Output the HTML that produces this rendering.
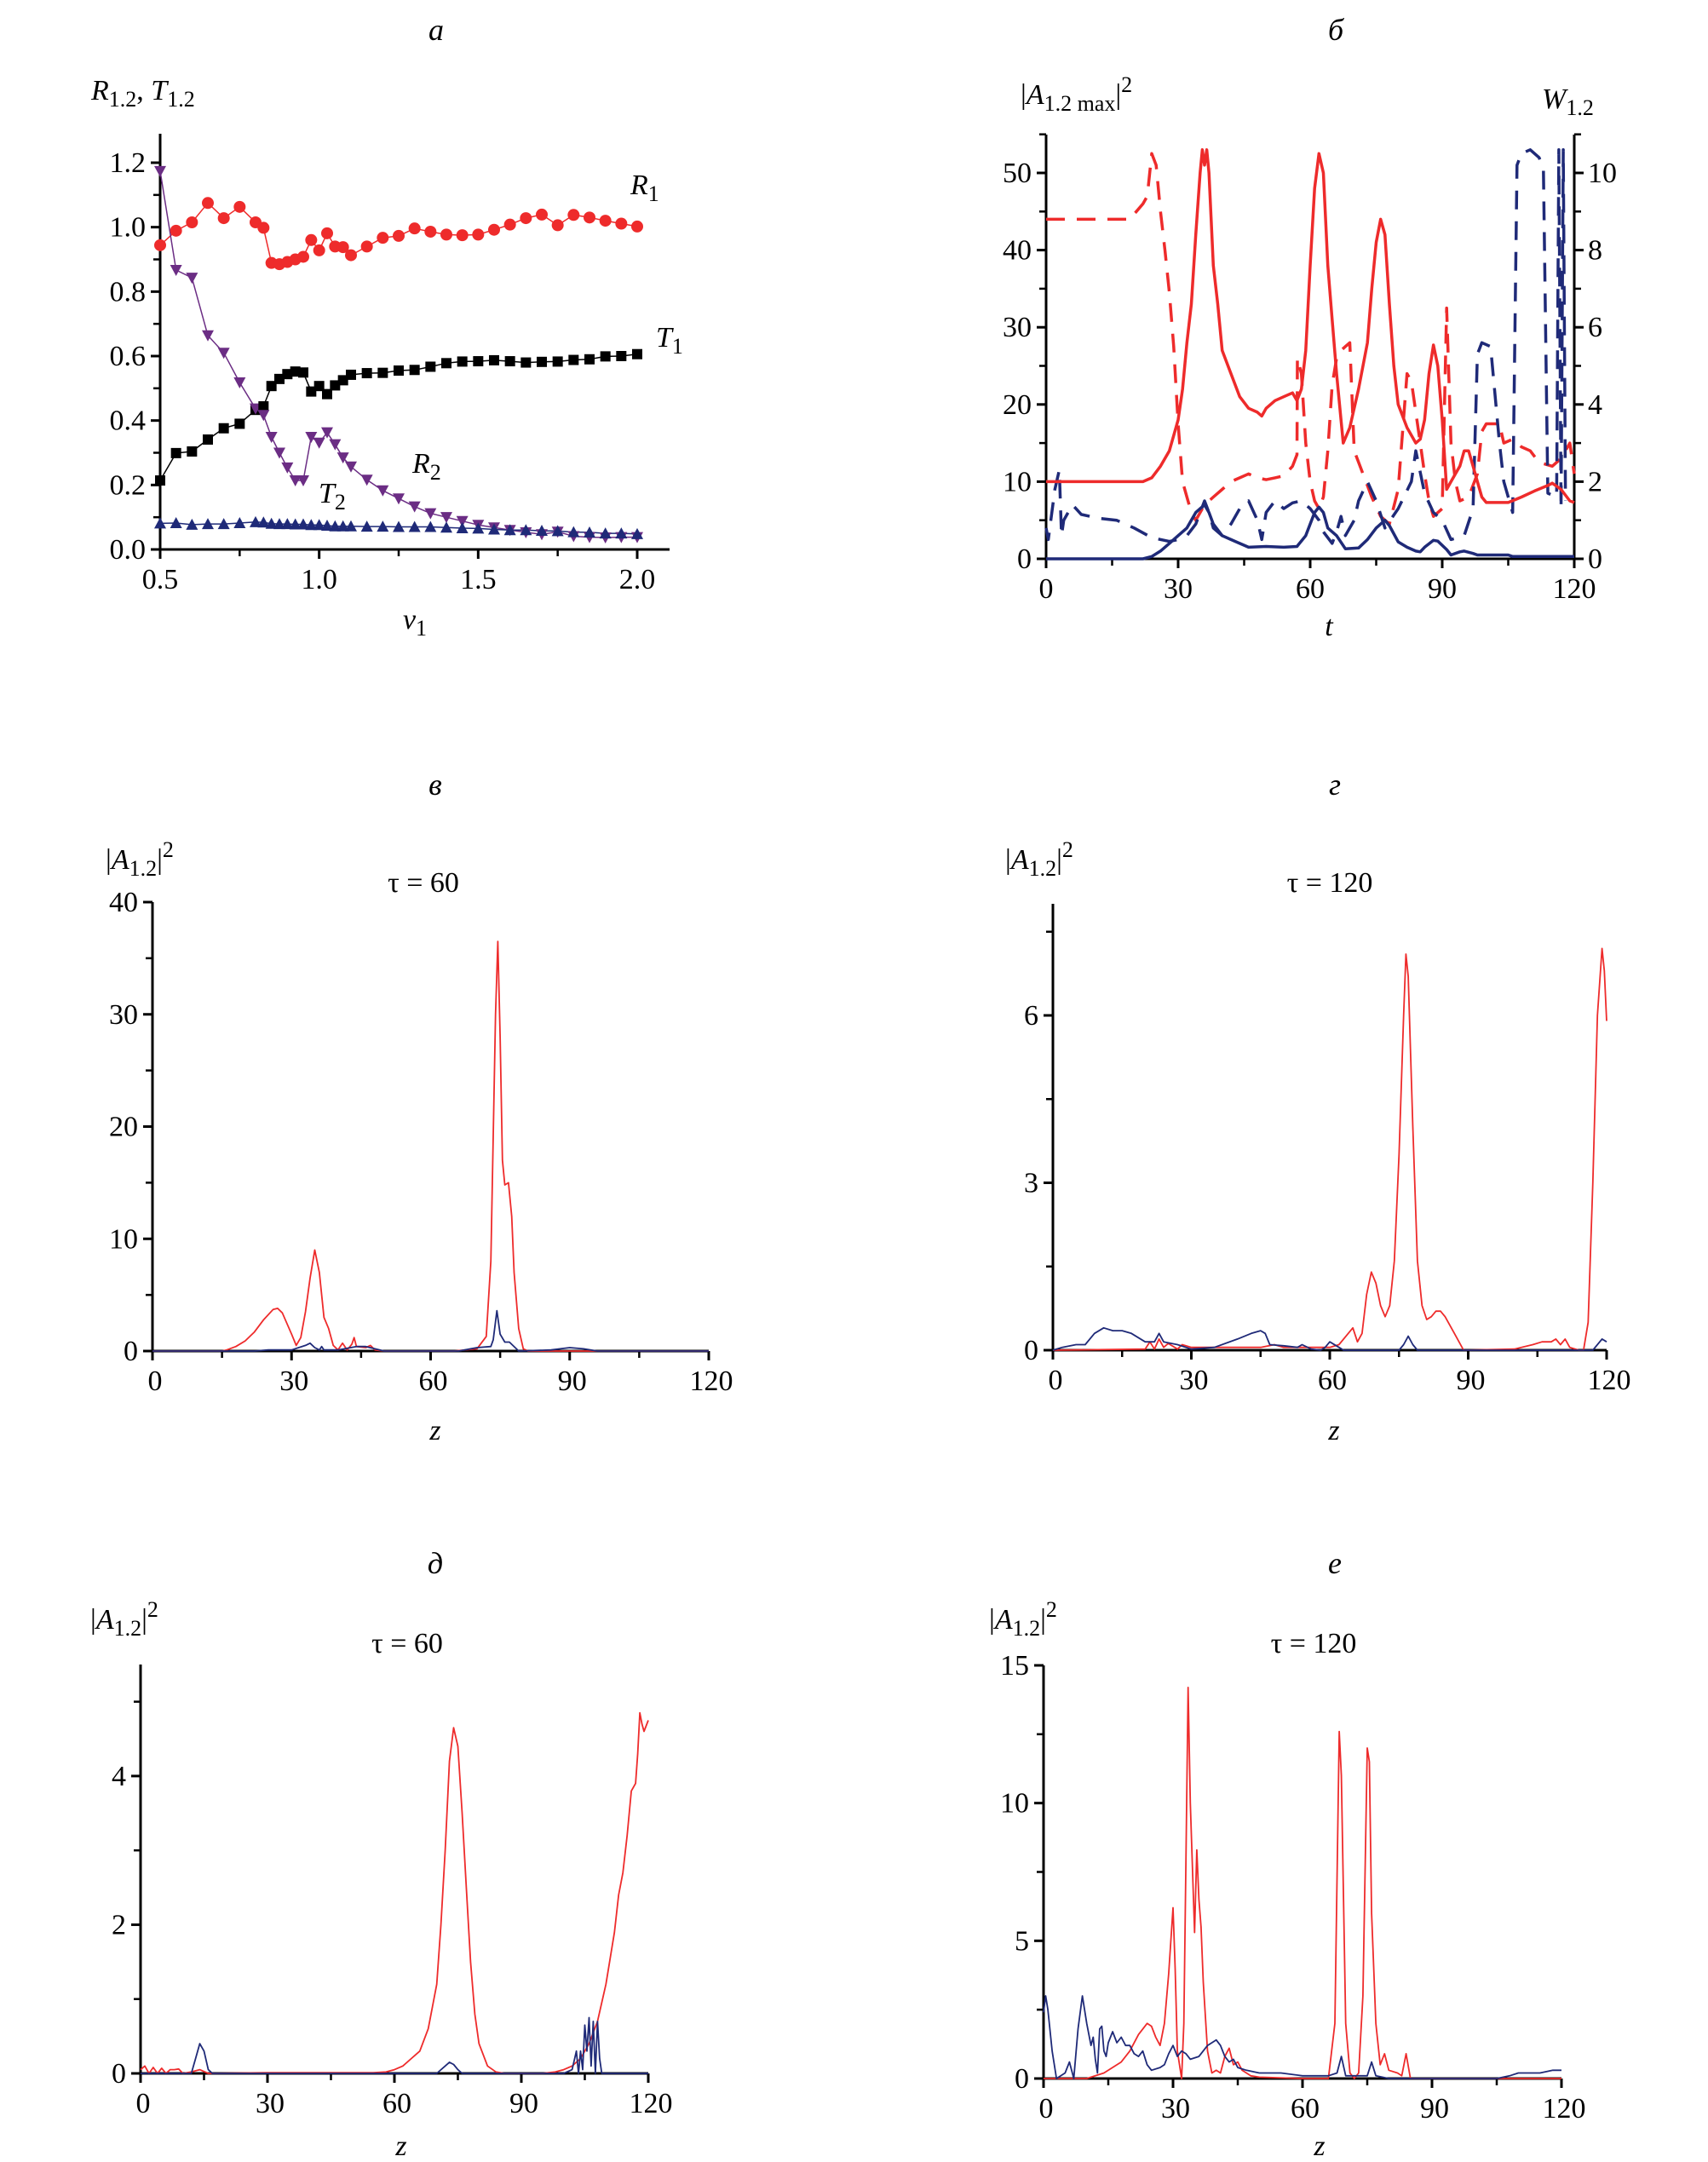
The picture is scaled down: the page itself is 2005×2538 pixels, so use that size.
<!DOCTYPE html>
<html><head><meta charset="utf-8">
<style>
html,body{margin:0;padding:0;background:#fff;}
svg{display:block;font-family:"Liberation Serif",serif;}
svg text{font-family:"Liberation Serif","Times New Roman",serif;}
</style></head>
<body>
<svg id="fig" width="2005" height="2538" viewBox="0 0 2005 2538" xmlns="http://www.w3.org/2000/svg" font-family="Liberation Serif, serif">
<g font-style="italic" font-size="36" text-anchor="middle" fill="#000">
<text x="512" y="47">a</text>
<text x="1568" y="47">б</text>
<text x="511" y="933">в</text>
<text x="1567" y="933">г</text>
<text x="511" y="1847">д</text>
<text x="1567" y="1847">е</text>
</g>
<g font-size="34" fill="#000">
<text x="107" y="117"><tspan font-style="italic">R</tspan><tspan font-size="26" dy="8">1.2</tspan><tspan dy="-8">, </tspan><tspan font-style="italic">T</tspan><tspan font-size="26" dy="8">1.2</tspan></text>
<text x="487" y="738" text-anchor="middle" font-style="italic">v<tspan font-size="26" font-style="normal" dy="8">1</tspan></text>
<text x="740" y="228" font-style="italic">R<tspan font-size="26" font-style="normal" dy="8">1</tspan></text>
<text x="770" y="407" font-style="italic">T<tspan font-size="26" font-style="normal" dy="8">1</tspan></text>
<text x="484" y="555" font-style="italic">R<tspan font-size="26" font-style="normal" dy="8">2</tspan></text>
<text x="374" y="590" font-style="italic">T<tspan font-size="26" font-style="normal" dy="8">2</tspan></text>

<text x="1198" y="122">|<tspan font-style="italic">A</tspan><tspan font-size="26" dy="8">1.2 max</tspan><tspan dy="-8">|</tspan><tspan font-size="26" dy="-14">2</tspan></text>
<text x="1810" y="127"><tspan font-style="italic">W</tspan><tspan font-size="26" dy="8">1.2</tspan></text>
<text x="1560" y="746" text-anchor="middle" font-style="italic">t</text>

<text x="124" y="1020">|<tspan font-style="italic">A</tspan><tspan font-size="26" dy="8">1.2</tspan><tspan dy="-8">|</tspan><tspan font-size="26" dy="-14">2</tspan></text>
<text x="497" y="1047" text-anchor="middle">τ = 60</text>
<text x="511" y="1690" text-anchor="middle" font-style="italic">z</text>

<text x="1180" y="1020">|<tspan font-style="italic">A</tspan><tspan font-size="26" dy="8">1.2</tspan><tspan dy="-8">|</tspan><tspan font-size="26" dy="-14">2</tspan></text>
<text x="1561" y="1047" text-anchor="middle">τ = 120</text>
<text x="1566" y="1690" text-anchor="middle" font-style="italic">z</text>

<text x="106" y="1912">|<tspan font-style="italic">A</tspan><tspan font-size="26" dy="8">1.2</tspan><tspan dy="-8">|</tspan><tspan font-size="26" dy="-14">2</tspan></text>
<text x="478" y="1940" text-anchor="middle">τ = 60</text>
<text x="471" y="2530" text-anchor="middle" font-style="italic">z</text>

<text x="1161" y="1912">|<tspan font-style="italic">A</tspan><tspan font-size="26" dy="8">1.2</tspan><tspan dy="-8">|</tspan><tspan font-size="26" dy="-14">2</tspan></text>
<text x="1542" y="1940" text-anchor="middle">τ = 120</text>
<text x="1549" y="2530" text-anchor="middle" font-style="italic">z</text>
</g>
<g id="plots"></g>
</svg>
<script>
// ---- Panel a data ----
const aV = [0.5,0.55,0.6,0.65,0.7,0.75,0.8,0.825,0.85,0.875,0.9,0.925,0.95,0.975,1.0,1.025,1.05,1.075,1.1,1.15,1.2,1.25,1.3,1.35,1.4,1.45,1.5,1.55,1.6,1.65,1.7,1.75,1.8,1.85,1.9,1.95,2.0];
const aR1 = [0.944,0.989,1.015,1.075,1.028,1.063,1.015,0.998,0.889,0.885,0.892,0.9,0.908,0.96,0.928,0.981,0.94,0.938,0.913,0.94,0.967,0.973,0.996,0.986,0.977,0.975,0.977,0.992,1.008,1.028,1.039,1.006,1.038,1.03,1.02,1.011,1.002];
const aT1 = [0.214,0.299,0.304,0.341,0.376,0.39,0.433,0.444,0.507,0.529,0.544,0.552,0.549,0.49,0.507,0.482,0.509,0.525,0.542,0.547,0.548,0.555,0.557,0.567,0.578,0.583,0.584,0.587,0.584,0.58,0.582,0.583,0.588,0.59,0.599,0.6,0.606];
const aR2 = [1.174,0.867,0.843,0.664,0.61,0.518,0.437,0.417,0.349,0.3,0.254,0.214,0.214,0.349,0.331,0.363,0.326,0.285,0.257,0.216,0.183,0.158,0.133,0.112,0.1,0.088,0.076,0.068,0.06,0.053,0.047,0.055,0.041,0.038,0.037,0.038,0.038];
const aT2 = [0.081,0.082,0.077,0.079,0.079,0.082,0.085,0.084,0.08,0.079,0.079,0.078,0.078,0.076,0.076,0.074,0.072,0.072,0.072,0.071,0.071,0.07,0.07,0.07,0.068,0.066,0.065,0.062,0.06,0.06,0.058,0.057,0.054,0.053,0.05,0.05,0.048];
const aYTicks = ["0.0","0.2","0.4","0.6","0.8","1.0","1.2"];
const aXTicks = ["0.5","1.0","1.5","2.0"];

// ---- Panel b data ----
const bT1 = [0,22,24,26,28,30,31,32,33,34,35,35.5,36,36.5,37,38,39,40,42,44,46,48,49,50,52,54,56,57,58,59,60,61,62,63,64,65,66,67,67.5,69,71,73,74,75,76,77,78,79,80,82,84,85,86,87,88,89,90,91,92,93,94,95,96,97,98,99,100,105,108,111,114,115,117,119,120];
const bA1 = [10,10,10.5,12,14,18,22,28,33,42,50,53,51,53,50,38,33,27,24,21,19.5,19,18.5,19.5,20.5,21,21.5,20.5,22,27,38,48,52.5,50,38,31,24,18,15,17,22,28,35,41,44,42,33,25,20,17,15,15.5,18,24,27.7,25,18,9,10,11,12,14,14,12,10,8,7.3,7.3,8,8.8,9.5,9.8,9,7.5,7.3];
const bT2 = [0,22,24,26,28,30,32,34,36,37,38,40,42,44,46,50,54,57,59,61,62,63,64,66,68,71,73,75,77,78,80,82,84,85,86,88,89,91,92,94,95,97,98,105,106,120];
const bA2 = [0,0,0.3,1,2,3,4,6,7,6,4.5,3,2.5,2,1.5,1.6,1.5,1.6,3,6,6.7,6,4,3,1.3,1.4,2.5,4,5,4.3,2.2,1.5,1,0.9,1.5,2.4,2.3,1.2,0.5,0.9,1,0.7,0.5,0.5,0.3,0.3];
const bTW1 = [0,19,22,23,24,25,26,27,28,29,30,31,32,33,34,36,38,40,42,44,46,48,50,52,54,56,57,57.1,58,59,60,61,62,63,64,65,66,67,68,69,70,72,74,76,78,80,82,83,84,85,86,87,88,90,91,92,93,94,96,98,99,100,103,104,106,108,110,112,115,117,119,120];
const bW1 = [8.8,8.8,9.2,9.4,10.5,10.2,9,8,6.9,5.5,3.5,2,1.6,1.2,1.0,1.4,1.6,1.8,2,2.1,2.2,2.1,2.05,2.1,2.15,2.4,2.7,5.2,4.8,3,2,1.5,1.3,1.6,2.8,4.5,5.2,5.4,5.5,5.6,2.8,2.2,1.6,1.1,0.9,1.8,4.8,4.6,3.8,3,2.2,1.5,1.1,1.3,6.5,3,2,1.5,1.6,2.2,3.3,3.5,3.5,3,3.1,2.9,2.8,2.5,2.4,2.6,3,2.2];
const bTW2 = [0,0.5,2,3,3.5,4,6,8,10,12,16,20,24,28,30,32,34,36,37,38,40,42,44,46,48,49,50,52,54,56,58,60,62,63,65,66,67,68,70,71,73,75,77,80,83,84,86,88,90,92,95,97,98,99,101,103,104,106,107,108,110,112,113,114,116,116.5,117,117.5,118];
const bW2 = [0.8,0.5,1.8,2.3,0.6,1.0,1.4,1.15,1.1,1.05,1.0,0.8,0.55,0.45,0.5,0.6,0.9,1.5,1.2,0.8,0.6,0.9,1.3,1.5,1.0,0.5,1.2,1.5,1.3,1.45,1.5,1.3,1.0,0.7,0.4,0.7,1.1,0.6,1.0,1.5,2.0,1.5,0.8,1.3,2,2.8,1.7,1.2,1.0,0.5,0.6,1.3,5.3,5.6,5.5,3,2,1.2,10.2,10.5,10.6,10.4,10.1,1.7,1.6,10.6,1.3,10.6,1.5];
const bXTicks = ["0","30","60","90","120"];
const bYTicks = ["0","10","20","30","40","50"];
const bY2Ticks = ["0","2","4","6","8","10"];

// ---- Panel в ----
const vZr = [0,15,16,18,20,22,24,26,27,28,30,31,32,33,34,35,36,37,38,39,40,41,42,43,43.5,44,46,47,48,50,65,70,72,73,74,74.5,75,75.5,76,76.8,77.5,78,79,80,81,120];
const vRed = [0,0,0.1,0.4,0.9,1.7,2.8,3.7,3.8,3.4,1.5,0.5,1.2,3.5,6.5,9,7,3,2,0.5,0.1,0.7,0.1,0.6,1.2,0.4,0.3,0.5,0.1,0,0,0.2,1.3,8,30,36.5,28,17,14.8,15,12,7,2,0.2,0,0];
const vZb = [0,22,25,30,33,34,35,36,36.5,37,40,44,46,48,50,66,70,73,73.5,74.3,75,76,77,79,86,90,93,96,120];
const vBlue = [0,0,0.1,0.1,0.5,0.7,0.3,0.1,0.4,0.1,0.1,0.4,0.4,0.2,0,0,0.3,0.4,1,3.6,1.5,0.8,0.8,0,0.1,0.3,0.2,0,0];
// ---- Panel г ----
const gZr = [0,20,21,22,23,24,25,27,28,30,35,45,48,50,55,60,62,64,65,66,67,68,69,70,71,72,73,74,75,76,76.5,77,78,79,80,81,82,83,84,85,87,89,100,104,106,108,109,110,111,112,114,115,116,117,118,119,119.5,120];
const gRed = [0,0.02,0.15,0.02,0.2,0.05,0.12,0.02,0.1,0.05,0.05,0.05,0.1,0.05,0.05,0.05,0.1,0.3,0.4,0.15,0.3,1,1.4,1.2,0.8,0.6,0.8,1.6,3.5,6,7.1,6.7,4,1.6,0.8,0.55,0.6,0.7,0.7,0.6,0.3,0,0.02,0.1,0.15,0.15,0.2,0.1,0.2,0.05,0,0,0.5,3,6,7.2,6.8,5.9];
const gZb = [0,2,5,7,9,11,13,15,17,20,22,23,24,27,30,35,40,43,45,46,47,50,53,54,56,58,59,60,62,63,75,76,77,78,79,117,119,120];
const gBlue = [0,0.05,0.1,0.1,0.3,0.4,0.35,0.35,0.3,0.15,0.15,0.3,0.15,0.1,0.02,0.05,0.2,0.3,0.35,0.3,0.1,0.08,0.05,0.1,0.02,0,0.05,0.15,0.05,0,0,0.1,0.25,0.1,0,0,0.2,0.15];
// ---- Panel д ----
const dZr = [0,1,2,3,4,5,6,7,8,9,10,12,14,16,30,55,58,60,62,64,66,68,70,71,72,73,74,75,76,77,78,79,80,82,84,86,95,98,100,102,104,106,108,110,112,113,114,115,116,117,117.5,118,118.5,119,120];
const dRed = [0.05,0.1,0,0.08,0,0.07,0,0.05,0.05,0.06,0,0.02,0.05,0,0.01,0.01,0.02,0.05,0.1,0.2,0.3,0.6,1.2,2,3,4.2,4.65,4.4,3.5,2.5,1.5,0.8,0.4,0.1,0.02,0,0,0.02,0.05,0.1,0.2,0.4,0.7,1.2,1.9,2.4,2.7,3.2,3.8,3.9,4.3,4.85,4.7,4.6,4.75];
const dZb = [0,12,13,14,15,16,17,70,72,73,74,75,76,100,102,103,103.5,104,104.5,105,105.5,106,106.5,107,107.5,108,108.5,109,120];
const dBlue = [0,0,0.2,0.4,0.3,0.05,0,0,0.1,0.15,0.12,0.05,0,0,0.05,0.3,0,0.3,0.05,0.65,0.3,0.75,0.1,0.7,0,0.7,0.2,0,0];
// ---- Panel е ----
const eZr = [0,10,14,18,20,22,24,25,26,27,28,29,30,30.5,31,32,32.5,33,33.5,34,35,35.5,36,36.5,37,38,39,40,41,42,43,44,45,46,48,50,60,66,67.5,68.5,69,70,71,72,73,74,75,75.5,76,77,78,79,80,82,83,84,85,90,120];
const eRed = [0,0,0.2,0.6,1,1.6,2,1.9,1.5,1.2,2,3.8,6.2,4,1,0,2,8,14.2,10,5.3,8.3,6.5,5.5,3.5,1,0.2,0.3,0.2,0.8,1.1,0.5,0.6,0.3,0.1,0.05,0,0,2,12.6,11,2,0.2,0,0.2,3,12,11.5,6,2,0.5,0.9,0.3,0.2,0.1,0.9,0,0,0];
const eZb = [0,0.5,1,2,3,5,6,7,8,9,10,11,11.5,12,12.5,13,13.5,14,14.5,15,16,17,18,19,20,21,22,23,24,25,27,28,29,30,31,32,33,34,36,38,40,41,42,43,44,45,47,50,55,60,66,68,69,70,75,76,77,80,105,108,110,115,118,120];
const eBlue = [2.4,3,2.5,1,0,0.2,0.6,0,1.8,3,2,1.2,1.5,0.7,0.2,1.8,1.9,1,0.8,1.3,1.7,1.3,1.5,1.2,1.2,0.9,0.8,1,0.5,0.3,0.4,0.5,0.9,1.2,0.8,1,0.9,0.7,0.8,1.2,1.4,1.2,0.8,0.6,0.7,0.4,0.3,0.2,0.2,0.1,0.1,0.2,0.8,0.1,0.1,0.6,0.1,0,0,0.1,0.2,0.2,0.3,0.3];
const zTicks = ["0","30","60","90","120"];

const NS = "http://www.w3.org/2000/svg";
const root = document.getElementById('plots');
function mk(tag, attrs, parent){const e=document.createElementNS(NS,tag);for(const k in attrs)e.setAttribute(k,attrs[k]);if(tag==='text')e.setAttribute('font-family','Liberation Serif, serif');(parent||root).appendChild(e);return e;}
function lin(d0,d1,r0,r1){return v=>r0+(v-d0)/(d1-d0)*(r1-r0);}

function axes(g, X, Y, x0, x1, y0, y1, xMaj, xMin, yMaj, yMin, xLab, yLab, opts){
  opts=opts||{};
  const px0=X(x0), px1=opts.xEnd||X(x1), py0=Y(y0), py1=opts.yTop||Y(y1);
  const ax=mk('line',{x1:px0,y1:py0,x2:opts.xAxisEnd||px1,y2:py0,stroke:'#000','stroke-width':3},g);
  
  
  const ay=mk('line',{x1:px0,y1:py0+1,x2:px0,y2:py1,stroke:'#000','stroke-width':3},g);
  
  
  xMaj.forEach((v,i)=>{const x=X(v);mk('line',{x1:x,y1:py0,x2:x,y2:py0+11,stroke:'#000','stroke-width':3},g);
    const t=mk('text',{x:x+(opts.xShift||0),y:py0+46,'text-anchor':'middle','font-size':34},g);t.textContent=xLab[i];
    
    });
  xMin.forEach(v=>{const x=X(v);mk('line',{x1:x,y1:py0,x2:x,y2:py0+8,stroke:'#000','stroke-width':2.5},g);});
  yMaj.forEach((v,i)=>{const y=Y(v);mk('line',{x1:px0-11,y1:y,x2:px0,y2:y,stroke:'#000','stroke-width':3},g);
    const t=mk('text',{x:px0-17,y:y+11,'text-anchor':'end','font-size':34},g);t.textContent=yLab[i];
    
    });
  yMin.forEach(v=>{const y=Y(v);mk('line',{x1:px0-8,y1:y,x2:px0,y2:y,stroke:'#000','stroke-width':2.5},g);});
}
function path(g,X,Y,xs,ys,color,w,dash,name){
  let d='';xs.forEach((x,i)=>{d+=(i?'L':'M')+X(x).toFixed(1)+','+Y(ys[i]).toFixed(1);});
  const p=mk('path',{d:d,fill:'none',stroke:color,'stroke-width':w,'stroke-linejoin':'round'},g);
  if(dash)p.setAttribute('stroke-dasharray',dash);
  
  
  return p;
}
const RED='#ee2b2b', BLUE='#1f2a78', PURP='#6b2d84';

// Panel a
(function(){
  const g=mk('g',{});
  
  
  const X=lin(0.5,2.0,188,748), Y=lin(0,1.2,645,191);
  axes(g,X,Y,0.5,2.0,0,1.2,[0.5,1.0,1.5,2.0],[0.75,1.25,1.75],[0,0.2,0.4,0.6,0.8,1.0,1.2],[0.1,0.3,0.5,0.7,0.9,1.1],aXTicks,aYTicks,{yTop:157,xAxisEnd:786});
  path(g,X,Y,aV,aR1,RED,1.5,null,'series-r1-line');
  path(g,X,Y,aV,aT1,'#000',1.5,null,'series-t1-line');
  path(g,X,Y,aV,aR2,PURP,1.5,null,'series-r2-line');
  path(g,X,Y,aV,aT2,BLUE,1.5,null,'series-t2-line');
  aV.forEach((v,i)=>{
    const c=mk('circle',{cx:X(v),cy:Y(aR1[i]),r:7,fill:RED},g);
    
    
    const s=mk('rect',{x:X(v)-6,y:Y(aT1[i])-6,width:12,height:12,fill:'#000'},g);
    
    
    const x=X(v), y=Y(aR2[i]);
    const t=mk('polygon',{points:`${x-7},${y-6} ${x+7},${y-6} ${x},${y+7}`,fill:PURP},g);
    
    
    const y2=Y(aT2[i]);
    const u=mk('polygon',{points:`${x-7},${y2+6} ${x+7},${y2+6} ${x},${y2-7}`,fill:BLUE},g);
    
    
  });
})();

// Panel b
(function(){
  const g=mk('g',{});
  
  
  const X=lin(0,120,1228,1848), Y=lin(0,50,656,203), Y2=lin(0,10,656,203);
  axes(g,X,Y,0,120,0,55,[0,30,60,90,120],[15,45,75,105],[0,10,20,30,40,50],[5,15,25,35,45,55],bXTicks,bYTicks,{yTop:158});
  const rx=X(120);
  const ar=mk('line',{x1:rx,y1:657,x2:rx,y2:158,stroke:'#000','stroke-width':3},g);
  
  
  [0,2,4,6,8,10].forEach((v,i)=>{const y=Y2(v);mk('line',{x1:rx,y1:y,x2:rx+11,y2:y,stroke:'#000','stroke-width':3},g);
    const t=mk('text',{x:rx+16,y:y+11,'font-size':34},g);t.textContent=bY2Ticks[i];
    
    });
  [1,3,5,7,9,11].forEach(v=>{const y=Y2(v);mk('line',{x1:rx,y1:y,x2:rx+8,y2:y,stroke:'#000','stroke-width':2.5},g);});
  path(g,X,Y2,bTW1,bW1,RED,3.5,'22,14','series-w1-dashed');
  path(g,X,Y2,bTW2,bW2,BLUE,3.5,'22,14','series-w2-dashed');
  path(g,X,Y,bT1,bA1,RED,3.5,null,'series-a1max-line');
  path(g,X,Y,bT2,bA2,BLUE,3.5,null,'series-a2max-line');
})();

function zPanel(name,x0px,x1px,y0px,ymax,ytopPx,yMaj,yMin,yLab,zr,red,zb,blue){
  const g=mk('g',{});
  
  
  const X=lin(0,120,x0px,x1px), Y=lin(0,ymax,y0px,ytopPx);
  axes(g,X,Y,0,120,0,ymax,[0,30,60,90,120],[15,45,75,105],yMaj,yMin,zTicks,yLab,{xShift:3});
  path(g,X,Y,zr,red,RED,1.8,null,'series-a1-line');
  path(g,X,Y,zb,blue,BLUE,1.8,null,'series-a2-line');
}
zPanel('chart-v',179,832,1586,40,1059,[0,10,20,30,40],[5,15,25,35],["0","10","20","30","40"],vZr,vRed,vZb,vBlue);
zPanel('chart-g',1236,1886,1585,8,1061,[0,3,6],[1.5,4.5,7.5],["0","3","6"],gZr,gRed,gZb,gBlue);
zPanel('chart-d',165,761,2434,5.5,1954,[0,2,4],[1,3,5],["0","2","4"],dZr,dRed,dZb,dBlue);
zPanel('chart-e',1225,1833,2440,15,1955,[0,5,10,15],[2.5,7.5,12.5],["0","5","10","15"],eZr,eRed,eZb,eBlue);
</script>
</body></html>
